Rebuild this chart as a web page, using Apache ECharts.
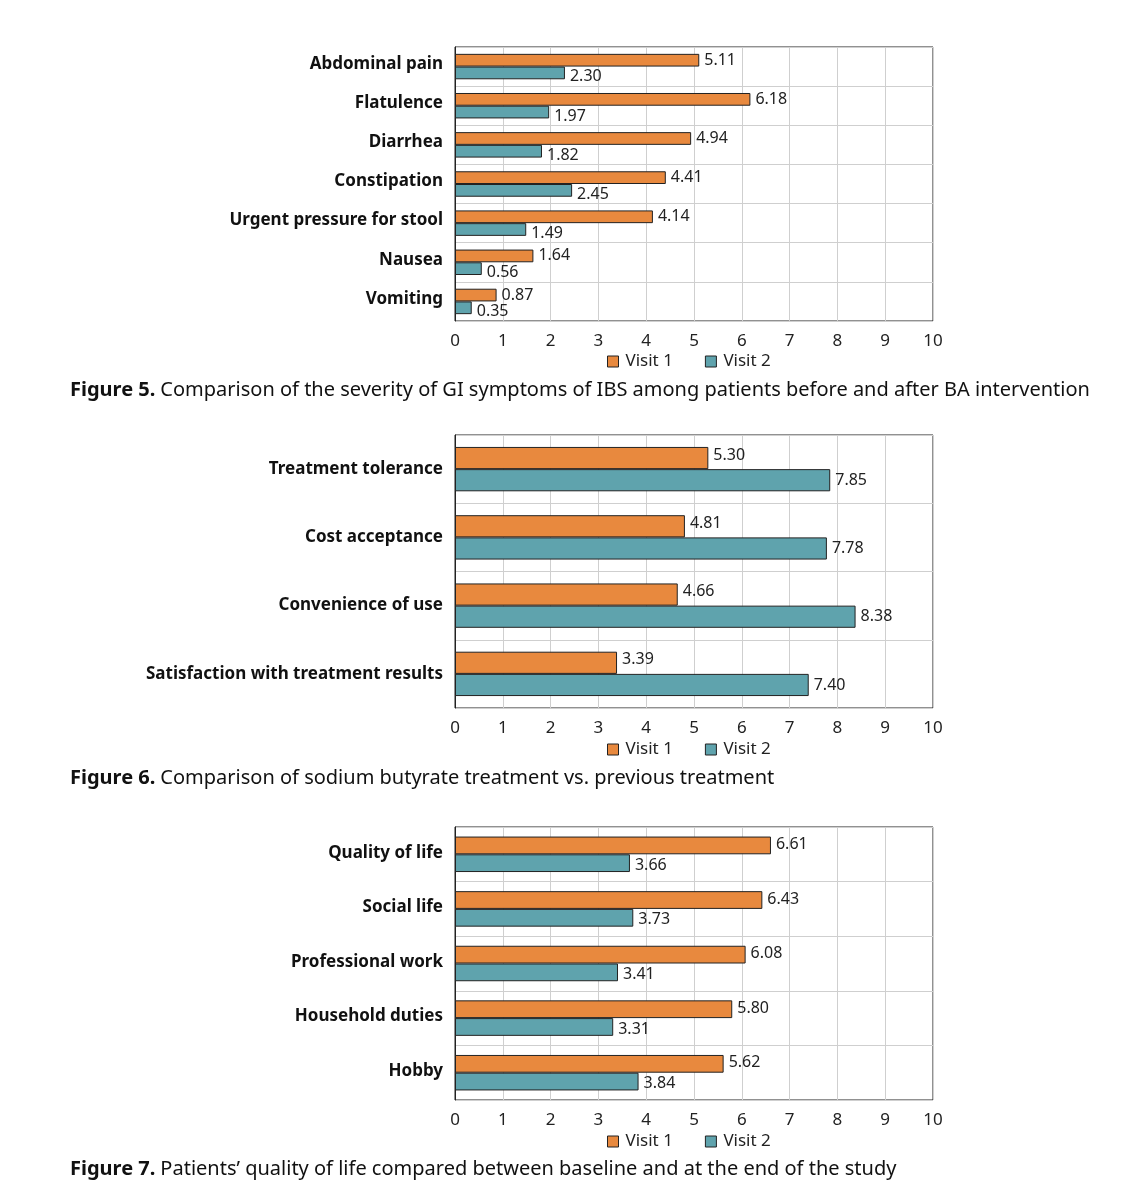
<!DOCTYPE html>
<html>
<head>
<meta charset="utf-8">
<script src="https://cdn.jsdelivr.net/npm/echarts@6/dist/echarts.min.js"></script>
<style>
html,body{margin:0;padding:0;background:#fff;}
#c{width:1126px;height:1200px;}
</style>
</head>
<body>
<div id="c"></div>
<script>
// Figure 5
const cats5 = ['Abdominal pain','Flatulence','Diarrhea','Constipation','Urgent pressure for stool','Nausea','Vomiting'];
const v1_5 = [5.11, 6.18, 4.94, 4.41, 4.14, 1.64, 0.87];
const v2_5 = [2.30, 1.97, 1.82, 2.45, 1.49, 0.56, 0.35];
// Figure 6
const cats6 = ['Treatment tolerance','Cost acceptance','Convenience of use','Satisfaction with treatment results'];
const v1_6 = [5.30, 4.81, 4.66, 3.39];
const v2_6 = [7.85, 7.78, 8.38, 7.40];
// Figure 7
const cats7 = ['Quality of life','Social life','Professional work','Household duties','Hobby'];
const v1_7 = [6.61, 6.43, 6.08, 5.80, 5.62];
const v2_7 = [3.66, 3.73, 3.41, 3.31, 3.84];
const xTicks = [0,1,2,3,4,5,6,7,8,9,10];
const seriesNames = ['Visit 1','Visit 2'];
const captions = [
  ['Figure 5.', 'Comparison of the severity of GI symptoms of IBS among patients before and after BA intervention'],
  ['Figure 6.', 'Comparison of sodium butyrate treatment vs. previous treatment'],
  ['Figure 7.', 'Patients\u2019 quality of life compared between baseline and at the end of the study']
];

const FONT = 'Noto Sans';
const ORANGE = '#E8893E';
const TEAL = '#5FA3AD';

const panels = [
  {cats: cats5, v1: v1_5, v2: v2_5, top: 47, height: 274, legendTop: 348, capTop: 375, catShift: 5, off1: 0, off2: 4},
  {cats: cats6, v1: v1_6, v2: v2_6, top: 435, height: 273, legendTop: 736, capTop: 763, catShift: 0, off1: -3, off2: 0},
  {cats: cats7, v1: v1_7, v2: v2_7, top: 827, height: 273, legendTop: 1128, capTop: 1154, catShift: 3, off1: -1, off2: 2}
];

const grid = [], xAxis = [], yAxis = [], series = [], legend = [], title = [];
panels.forEach((p, i) => {
  grid.push({left: 455, width: 478, top: p.top, height: p.height, show: true,
    borderColor: '#222', borderWidth: 1, backgroundColor: 'transparent'});
  xAxis.push({type: 'value', gridIndex: i, min: xTicks[0], max: xTicks[xTicks.length-1], interval: 1,
    axisLine: {show: false}, axisTick: {show: false},
    splitLine: {show: true, lineStyle: {color: '#cfcfcf', width: 1}},
    axisLabel: {fontFamily: FONT, fontSize: 17, color: '#222', margin: 12}});
  yAxis.push({type: 'category', gridIndex: i, data: p.cats, inverse: true,
    axisLine: {show: true, lineStyle: {color: '#222'}}, axisTick: {show: false},
    splitLine: {show: true, lineStyle: {color: '#cfcfcf', width: 1}},
    axisLabel: {margin: 12, formatter: (v) => '{a|' + v + '}',
      rich: {a: {fontFamily: FONT, fontSize: 17, fontWeight: 'bold', color: '#111',
        padding: [0, 0, p.catShift, 0]}}}});
  const mk = (name, data, color, off) => ({
    name, type: 'bar', xAxisIndex: i, yAxisIndex: i, data,
    barGap: '0%', barCategoryGap: '35%',
    itemStyle: {color, borderColor: '#222', borderWidth: 1},
    label: {show: true, position: 'right', distance: 5, offset: [0, off],
      fontFamily: FONT, fontSize: 16, color: '#222',
      formatter: (d) => d.value.toFixed(2)}
  });
  series.push(mk(seriesNames[0], p.v1, ORANGE, p.off1));
  series.push(mk(seriesNames[1], p.v2, TEAL, p.off2));
  legend.push({data: seriesNames, top: p.legendTop, left: 602,
    icon: 'rect', itemWidth: 11, itemHeight: 11, itemGap: 32,
    itemStyle: {borderColor: '#222', borderWidth: 1},
    textStyle: {fontFamily: FONT, fontSize: 17, color: '#222', padding: [0,0,0,2]}});
  title.push({left: 65, top: p.capTop,
    text: '{b|' + captions[i][0] + '} {n|' + captions[i][1] + '}',
    textStyle: {fontWeight: 'normal', rich: {
      b: {fontFamily: FONT, fontSize: 20, fontWeight: 'bold', color: '#111'},
      n: {fontFamily: FONT, fontSize: 20, fontWeight: 'normal', color: '#111'}
    }}});
});

const chart = echarts.init(document.getElementById('c'), null, {renderer: 'canvas'});
chart.setOption({animation: false, backgroundColor: '#fff', grid, xAxis, yAxis, series, legend, title});
</script>
</body>
</html>
